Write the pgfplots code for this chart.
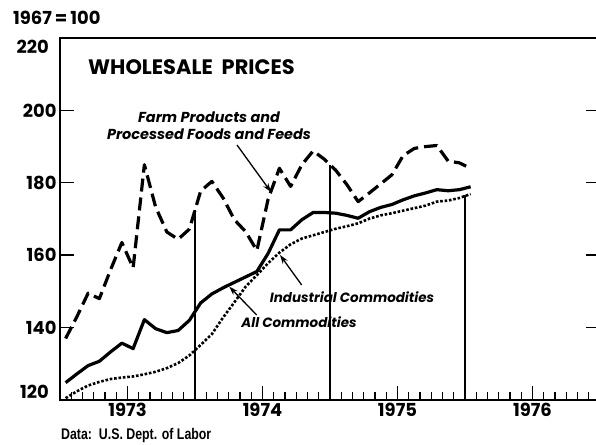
\documentclass[border=0pt]{standalone}
\usepackage{pgfplots}
\pgfplotsset{compat=1.18}
\usetikzlibrary{arrows.meta}
\usepackage{fontspec}
\setmainfont{Poppins}
\newfontfamily\lib{Liberation Sans}
\begin{document}
\begin{tikzpicture}[x=1bp,y=1bp]
\begin{axis}[
  scale only axis, width=540bp, height=362bp,
  xmin=0, xmax=48, ymin=120, ymax=220,
  axis line style={line width=1.6bp},
  xtick={6,18,30,42}, xticklabels={1973,1974,1975,1976},
  minor xtick={1,2,3,4,5,7,8,9,10,11,13,14,15,16,17,19,20,21,22,23,25,26,27,28,29,31,32,33,34,35,37,38,39,40,41,43,44,45,46,47},
  xtick pos=left,
  ytick={120,140,160,180,200,220},
  yticklabels={,140,160,180,200,},
  major tick length=14bp, minor tick length=8bp,
  every tick/.style={line width=1.4bp, black},
  tick label style={font=\bfseries\fontsize{18}{20}\selectfont},
  /pgf/number format/assume math mode=true,
  clip=false,
]
% Farm products and processed foods and feeds
\addplot[black, line width=3.2bp, dash pattern=on 13bp off 6bp, line join=round] coordinates {
(0.5,137) (1.5,143) (2.5,149.5) (3.5,148) (4.5,156) (5.5,163.5) (6.5,156.5) (7.5,185)
(8.5,173.3) (9.5,166.4) (10.5,164.4) (11.5,167.2) (12.5,177.7) (13.5,180.4) (14.5,175.8)
(15.5,169.8) (16.5,166.5) (17.5,161.3) (18.5,175.5) (19.5,184) (20.5,179) (21.5,185)
(22.5,188.8) (23.5,186.5) (24.5,183.5) (25.5,179.5) (26.5,174.8) (27.5,177.2) (28.5,179.7)
(29.5,182.2) (30.5,187.5) (31.5,189.5) (32.5,190) (33.5,190.3) (34.5,186) (35.5,185.5) (36.5,184)
};
% All commodities
\addplot[black, line width=3.2bp, line join=round] coordinates {
(0.5,124.8) (1.5,127.2) (2.5,129.5) (3.5,130.7) (4.5,133.3) (5.5,135.7) (6.5,134.2) (7.5,142.2)
(8.5,139.7) (9.5,138.6) (10.5,139.2) (11.5,142) (12.5,146.8) (13.5,149.3) (14.5,151)
(15.5,152.5) (16.5,154) (17.5,155.5) (18.5,160.5) (19.5,167) (20.5,167) (21.5,169.8)
(22.5,171.8) (23.5,171.8) (24.5,171.6) (25.5,171) (26.5,170.2) (27.5,172) (28.5,173.2)
(29.5,174) (30.5,175.3) (31.5,176.4) (32.5,177.2) (33.5,178.1) (34.5,177.8) (35.5,178.1) (36.5,178.9)
};
% Industrial commodities
\addplot[black, line width=2.6bp, dash pattern=on 2.6bp off 1.8bp] coordinates {
(0.5,120.5) (1.5,122.4) (2.5,124) (3.5,125) (4.5,125.8) (5.5,126.2) (6.5,126.5) (7.5,127.1)
(8.5,127.8) (9.5,128.8) (10.5,130.2) (11.5,132.3) (12.5,135.2) (13.5,138.2) (14.5,142.8)
(15.5,147) (16.5,151.3) (17.5,154.5) (18.5,157.8) (19.5,160.7) (20.5,163) (21.5,164.6)
(22.5,165.5) (23.5,166.4) (24.5,167.3) (25.5,168) (26.5,168.8) (27.5,170.1) (28.5,171)
(29.5,171.6) (30.5,172.3) (31.5,173) (32.5,173.7) (33.5,174.8) (34.5,175.1) (35.5,175.8) (36.5,176.9)
};
% year dividers
\addplot[black, line width=1.3bp] coordinates {(12,120) (12,172.5)};
\addplot[black, line width=1.3bp] coordinates {(24,120) (24,185)};
\addplot[black, line width=1.3bp] coordinates {(36,120) (36,176.5)};
\end{axis}
% texts (origin = lower-left of frame)
\node[anchor=east, font=\bfseries\fontsize{18}{20}\selectfont, inner sep=0] at (-11,353) {220};
\node[anchor=east, font=\bfseries\fontsize{18}{20}\selectfont, inner sep=0] at (-11,8) {120};
\node[anchor=west, font=\bfseries\fontsize{18}{20}\selectfont, inner sep=0] at (-47,382) {1967\,=\,100};
\node[anchor=west, font=\bfseries\fontsize{21}{23}\selectfont, inner sep=0] at (28,332.5) {WHOLESALE\ \ PRICES};
\node[align=center, font=\bfseries\itshape\fontsize{14.5}{17}\selectfont, inner sep=0] at (149,274.5) {Farm Products and\\Processed Foods and Feeds};
\draw[line width=1.3bp, -{Stealth[length=9bp,width=6bp]}] (177,255) -- (211,208);
\node[font=\bfseries\itshape\fontsize{13.5}{16}\selectfont, inner sep=0] at (292,103) {Industrial Commodities};
\draw[line width=1.3bp, -{Stealth[length=9bp,width=6bp]}] (241.7,115) -- (220,145);
\node[font=\bfseries\itshape\fontsize{13.5}{16}\selectfont, inner sep=0] at (239,78) {All Commodities};
\draw[line width=1.3bp, -{Stealth[length=9bp,width=6bp]}] (196.7,85) -- (169.3,113.3);
\node[anchor=west, font=\lib\bfseries\fontsize{15.5}{17}\selectfont, inner sep=0] at (1,-36) {\scalebox{0.8}[1]{Data:\ \ U.S. Dept. of Labor}};
\pgfresetboundingbox
\path[use as bounding box] (-60,-45) rectangle (536,400);
\end{tikzpicture}
\end{document}
